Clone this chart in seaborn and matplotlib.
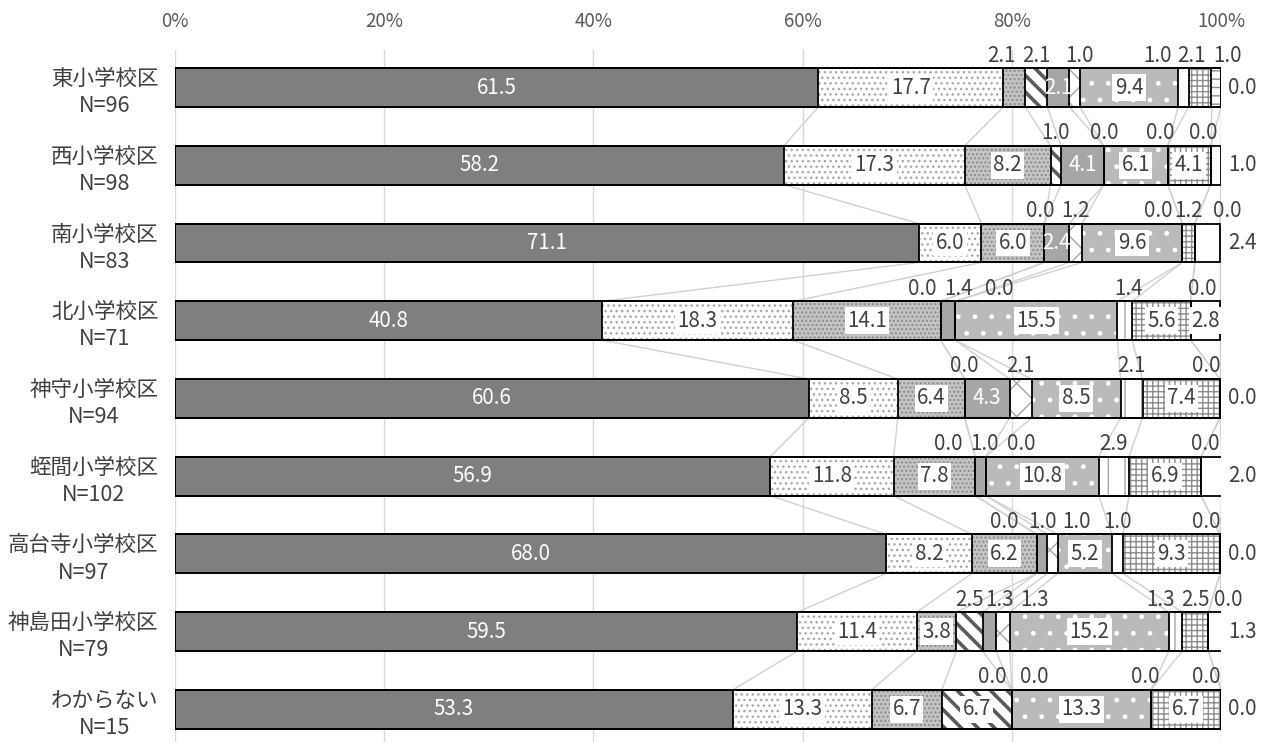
import numpy as np
import pandas as pd
import matplotlib
matplotlib.use("Agg")
import matplotlib.pyplot as plt
import seaborn as sns

# ---------------- data ----------------
schools = ["東小学校区", "西小学校区", "南小学校区", "北小学校区", "神守小学校区",
           "蛭間小学校区", "高台寺小学校区", "神島田小学校区", "わからない"]
n_sizes = [96, 98, 83, 71, 94, 102, 97, 79, 15]

s1 = [61.5, 58.2, 71.1, 40.8, 60.6, 56.9, 68.0, 59.5, 53.3]
s2 = [17.7, 17.3, 6.0, 18.3, 8.5, 11.8, 8.2, 11.4, 13.3]
s3 = [2.1, 8.2, 6.0, 14.1, 6.4, 7.8, 6.2, 3.8, 6.7]
s4 = [2.1, 1.0, 0.0, 0.0, 0.0, 0.0, 0.0, 2.5, 6.7]
s5 = [2.1, 4.1, 2.4, 1.4, 4.3, 1.0, 1.0, 1.3, 0.0]
s6 = [1.0, 0.0, 1.2, 0.0, 2.1, 0.0, 1.0, 1.3, 0.0]
s7 = [9.4, 6.1, 9.6, 15.5, 8.5, 10.8, 5.2, 15.2, 13.3]
s8 = [1.0, 0.0, 0.0, 1.4, 2.1, 2.9, 1.0, 1.3, 0.0]
s9 = [2.1, 4.1, 1.2, 5.6, 7.4, 6.9, 9.3, 2.5, 6.7]
s10 = [1.0, 0.0, 0.0, 0.0, 0.0, 0.0, 0.0, 0.0, 0.0]
s11 = [0.0, 1.0, 2.4, 2.8, 0.0, 2.0, 0.0, 1.3, 0.0]

x_ticks = [0, 20, 40, 60, 80, 100]
x_tick_labels = ["0%", "20%", "40%", "60%", "80%", "100%"]

series = [s1, s2, s3, s4, s5, s6, s7, s8, s9, s10, s11]

# ---------------- styles ----------------
STYLES = [
    dict(face="#7f7f7f", hatch=None, hc=None),
    dict(face="white", hatch="...", hc="#a8a8a8"),
    dict(face="#c4c4c4", hatch="....", hc="#8a8a8a"),
    dict(face="white", hatch="\\\\", hc="#5a5a5a", hlw=2.6),
    dict(face="#a6a6a6", hatch=None, hc=None),
    dict(face="white", hatch="x", hc="#a6a6a6"),
    dict(face="#bababa", hatch=".", hc="white"),
    dict(face="white", hatch="|", hc="#a6a6a6"),
    dict(face="white", hatch="+++", hc="#8c8c8c"),
    dict(face="white", hatch="--", hc="#8c8c8c"),
    dict(face="white", hatch=None, hc=None),
]
WHITE_TEXT = {0, 4}
INSIDE_OVERRIDE = {(0, 4), (2, 4), (3, 10)}
NUDGE = {
    (0, 2): -1.25, (0, 5): 0.5, (0, 7): -2.5, (0, 8): -0.75, (0, 9): 1.1,
    (1, 7): -0.7, (1, 9): -0.7,
    (2, 3): -0.4, (2, 7): -2.3, (2, 9): 3.1,
    (3, 3): -1.8, (3, 4): 1.0, (3, 5): 4.2, (3, 7): 0.4, (3, 9): 1.1,
    (4, 9): -1.3,
    (5, 3): -2.6, (5, 4): 0.4, (5, 5): 3.4, (5, 9): 0.4,
    (6, 3): -3.1, (6, 5): 2.3, (6, 9): -1.3,
    (7, 4): 1.0, (7, 5): 3.0, (7, 7): -1.4, (7, 9): 1.9,
    (8, 4): -1.9, (8, 5): 2.1, (8, 7): -0.5, (8, 9): -1.4,
}
BAR_W = 0.5
TXT = "#404040"
LBL_FS = 14.8

sns.set_theme(style="white")
plt.rcParams["font.family"] = ["Noto Sans CJK JP", "DejaVu Sans"]
plt.rcParams["hatch.linewidth"] = 1.0

W, H = 1269, 742
fig = plt.figure(figsize=(W / 100, H / 100), dpi=100)
ax = fig.add_axes([175 / W, 0, (1221 - 175) / W, (742 - 50) / H])

labels = [f"{s}\nN={n}" for s, n in zip(schools, n_sizes)]
df = pd.DataFrame({f"s{k+1}": v for k, v in enumerate(series)})
df["label"] = labels
cum = df[[f"s{k+1}" for k in range(len(series))]].cumsum(axis=1)


def bar_layer(values, **props):
    before = len(ax.patches)
    sns.barplot(x=list(values), y=labels, order=labels, orient="h", width=BAR_W,
                color="white", saturation=1, errorbar=None, ax=ax)
    new = list(ax.patches)[before:]
    hlw = props.pop("hlw", None)
    for p in new:
        p.set(**props)
        if hlw is not None and hasattr(p, "set_hatch_linewidth"):
            p.set_hatch_linewidth(hlw)
    return new


# fills: widest cumulative first, shorter ones on top
for k in range(len(series) - 1, -1, -1):
    st = STYLES[k]
    props = dict(facecolor=st["face"], linewidth=0, zorder=2)
    if st["hatch"]:
        props.update(hatch=st["hatch"], edgecolor=st["hc"])
        if "hlw" in st:
            props["hlw"] = st["hlw"]
    else:
        props.update(edgecolor=st["face"])
    bar_layer(cum[f"s{k+1}"], **props)

# outlines
for k in range(len(series)):
    bar_layer(cum[f"s{k+1}"], facecolor="none", edgecolor="black",
              linewidth=1.3, zorder=3)

# series lines
n_rows = len(schools)
for k in range(len(series)):
    c = cum[f"s{k+1}"].values
    for i in range(n_rows - 1):
        ax.plot([c[i], c[i + 1]], [i + BAR_W / 2, i + 1 - BAR_W / 2],
                color="#d0d0d0", lw=1.0, zorder=1.5)

# data labels
for i in range(n_rows):
    left = 0.0
    for k, s in enumerate(series):
        v = s[i]
        right = left + v
        if k == len(series) - 1:
            pos = "r"
        elif v < 3:
            pos = "a"
        else:
            pos = "i"
        if (i, k) in INSIDE_OVERRIDE:
            pos = "i"
        txt = f"{v:.1f}"
        if pos == "i":
            xc = (left + right) / 2
            if k in WHITE_TEXT:
                ax.text(xc, i, txt, ha="center", va="center", color="white",
                        fontsize=LBL_FS, zorder=6)
            else:
                ax.text(xc, i, txt, ha="center", va="center", color=TXT,
                        fontsize=LBL_FS, zorder=6,
                        bbox=dict(boxstyle="square,pad=0.12", fc="white", ec="none"))
        elif pos == "a":
            xc = (left + right) / 2 + NUDGE.get((i, k), 0.0)
            ax.text(xc, i - BAR_W / 2 - 0.02, txt, ha="center", va="bottom",
                    color=TXT, fontsize=LBL_FS, zorder=6)
        else:
            ax.text(100.7, i, txt, ha="left", va="center", color=TXT,
                    fontsize=LBL_FS, zorder=6, clip_on=False)
        left = right

# axes styling
ax.set_xlim(0, 100)
ax.set_ylim(8.42, -0.483)
ax.set_xticks(x_ticks)
ax.set_xticklabels(x_tick_labels, fontsize=13.5, color="#595959")
ax.xaxis.tick_top()
ax.tick_params(axis="x", length=0, pad=13)
ax.tick_params(axis="y", length=0, pad=12)
for t in ax.get_yticklabels():
    t.set_fontsize(15.5)
    t.set_color(TXT)
    t.set_multialignment("center")
    t.set_linespacing(1.3)
ax.set_xlabel("")
ax.set_ylabel("")
ax.grid(axis="x", color="#d9d9d9", lw=1)
ax.grid(axis="y", visible=False)
ax.set_axisbelow(True)
for sp in ax.spines.values():
    sp.set_visible(False)

fig.savefig("out.png", dpi=100)
